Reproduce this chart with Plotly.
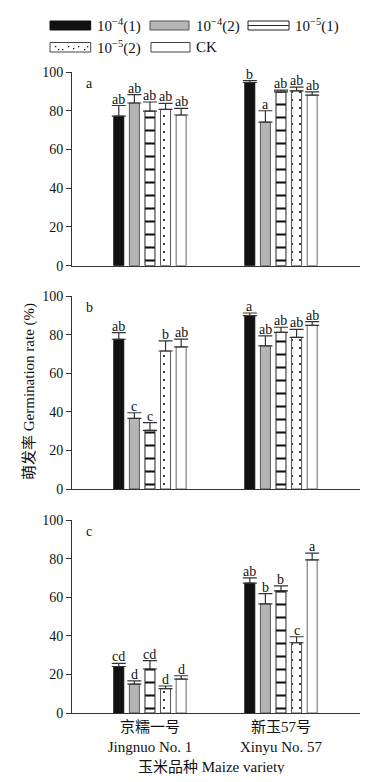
import plotly.graph_objects as go

# ---------------- data ----------------
varieties = ["京糯一号<br>Jingnuo No. 1", "新玉57号<br>Xinyu No. 57"]
treatments = ["10<sup>−4</sup>(1)", "10<sup>−4</sup>(2)", "10<sup>−5</sup>(1)", "10<sup>−5</sup>(2)", "CK"]
panel_tags = ["a", "b", "c"]

# means per panel, per treatment: [Jingnuo, Xinyu]
a_mean = [[77.2, 94.6], [84.0, 74.1], [79.8, 89.7], [80.7, 90.3], [77.8, 88.1]]
a_err = [[5.5, 1.0], [4.3, 5.9], [4.7, 0.9], [3.1, 1.9], [3.4, 1.6]]
a_lab = [["ab", "b"], ["ab", "a"], ["ab", "ab"], ["ab", "ab"], ["ab", "ab"]]

b_mean = [[77.6, 89.8], [36.6, 74.2], [30.4, 81.2], [71.5, 78.6], [73.6, 84.8]]
b_err = [[3.4, 1.4], [2.9, 5.1], [4.0, 2.6], [5.3, 4.1], [4.1, 1.9]]
b_lab = [["ab", "a"], ["c", "ab"], ["c", "ab"], ["b", "ab"], ["ab", "ab"]]

c_mean = [[24.1, 67.3], [15.0, 56.5], [22.8, 63.3], [12.6, 36.4], [17.6, 79.3]]
c_err = [[1.6, 2.7], [1.6, 5.4], [4.3, 2.6], [1.4, 3.1], [1.7, 3.5]]
c_lab = [["cd", "ab"], ["d", "b"], ["cd", "b"], ["d", "c"], ["d", "a"]]

panels = [(a_mean, a_err, a_lab), (b_mean, b_err, b_lab), (c_mean, c_err, c_lab)]

# ---------------- styles ----------------
SERIF = "Liberation Serif, 'Times New Roman', 'Noto Sans CJK SC', serif"
INK = "#111111"
styles = [
    dict(color="#111111", line=dict(color="#111111", width=1)),
    dict(color="#b5b5b5", line=dict(color="#555555", width=1)),
    dict(color="white", line=dict(color="#222222", width=1),
         pattern=dict(shape="-", size=13, solidity=0.16, fgcolor="#111111",
                      bgcolor="white", fillmode="replace")),
    dict(color="white", line=dict(color="#555555", width=1),
         pattern=dict(shape=".", size=8, solidity=0.06, fgcolor="#111111",
                      bgcolor="white", fillmode="replace")),
    dict(color="white", line=dict(color="#666666", width=1)),
]

BARGAP = 0.405
SLOT = (1 - BARGAP) / len(treatments)

# page has an 8px body margin: figure is placed at (8, 8) in the window.
# target plot area in window pixels: x 72..360, y 72..713
OFF = 8
W, H = 383 - 2 * OFF, 782 - 2 * OFF
L, T = 72 - OFF, 72 - OFF
R = W - (360 - OFF)
B = H - (713 - OFF)
PW, PH = W - L - R, H - T - B


def px_x(p):
    return (p - 72) / PW


def px_y(p):
    return (713 - p) / PH


domains = [
    [px_y(265.7), 1.0],
    [px_y(489.0), px_y(296.0)],
    [0.0, px_y(520.0)],
]

fig = go.Figure()
annotations = []

for pi, (means, errs, labs) in enumerate(panels):
    xa = "x" if pi == 0 else f"x{pi + 1}"
    ya = "y" if pi == 0 else f"y{pi + 1}"
    for ti, tname in enumerate(treatments):
        fig.add_trace(go.Bar(
            x=varieties, y=means[ti], name=tname, xaxis=xa, yaxis=ya,
            marker=styles[ti], showlegend=False,
            error_y=dict(type="data", symmetric=False, array=errs[ti],
                         arrayminus=[0] * len(varieties), color="#333333",
                         thickness=1.2, width=7),
        ))
        for vi in range(len(varieties)):
            annotations.append(dict(
                x=vi + (ti - 2) * SLOT, y=means[ti][vi] + errs[ti][vi],
                xref=xa, yref=ya, text=labs[ti][vi], showarrow=False,
                yanchor="bottom", yshift=-3,
                font=dict(family=SERIF, size=14, color=INK),
            ))
    annotations.append(dict(
        x=px_x(89), y=94, xref="paper", yref=ya, text=panel_tags[pi],
        showarrow=False, xanchor="center", yanchor="middle",
        font=dict(family=SERIF, size=14, color=INK),
    ))

axis_common = dict(showline=True, linecolor="#333333", linewidth=1,
                   showgrid=False, zeroline=False, mirror=False)

layout = dict(
    template="none",
    width=W, height=H,
    margin=dict(l=L, r=R, t=T, b=B, pad=0),
    paper_bgcolor="white", plot_bgcolor="white",
    barmode="group", bargap=BARGAP, bargroupgap=0.36,
    font=dict(family=SERIF, size=14, color=INK),
    showlegend=False,
)
for pi in range(3):
    xk = "xaxis" if pi == 0 else f"xaxis{pi + 1}"
    yk = "yaxis" if pi == 0 else f"yaxis{pi + 1}"
    ya = "y" if pi == 0 else f"y{pi + 1}"
    xa = "x" if pi == 0 else f"x{pi + 1}"
    layout[xk] = dict(axis_common, domain=[0, 1], anchor=ya, type="category",
                      range=[-0.595, 1.603], ticks="",
                      showticklabels=(pi == 2), automargin=False,
                      tickfont=dict(family=SERIF, size=15, color=INK))
    layout[yk] = dict(axis_common, domain=domains[pi], anchor=xa,
                      range=[0, 100], tickvals=[0, 20, 40, 60, 80, 100],
                      ticks="outside", ticklen=5, tickcolor="#333333",
                      automargin=False,
                      tickfont=dict(family=SERIF, size=14, color=INK))

fig.update_layout(**layout)

# axis titles
annotations.append(dict(
    x=px_x(29), y=px_y(392), xref="paper", yref="paper",
    text="萌发率 Germination rate (%)", textangle=-90, showarrow=False,
    xanchor="center", yanchor="middle",
    font=dict(family=SERIF, size=15, color=INK),
))
annotations.append(dict(
    x=px_x(211), y=px_y(767), xref="paper", yref="paper",
    text="玉米品种 Maize variety", showarrow=False,
    xanchor="center", yanchor="middle",
    font=dict(family=SERIF, size=15, color=INK),
))

# ---------------- manual legend ----------------
shapes = []
legend_items = [
    (50, 90.7, 21, 30, 95),
    (150, 189, 21, 30, 194),
    (248, 289, 21, 30, 293),
    (50, 90.7, 42.5, 52, 95),
    (151, 190, 42.5, 52, 194),
]
sw_fill = ["#111111", "#b5b5b5", "white", "white", "white"]
sw_line = ["#111111", "#555555", "#222222", "#444444", "#444444"]
for ti, (x0, x1, y0, y1, tx) in enumerate(legend_items):
    shapes.append(dict(type="rect", xref="paper", yref="paper",
                       x0=px_x(x0), x1=px_x(x1), y0=px_y(y1), y1=px_y(y0),
                       fillcolor=sw_fill[ti], line=dict(color=sw_line[ti], width=1)))
    if ti == 2:
        ym = (y0 + y1) / 2
        shapes.append(dict(type="line", xref="paper", yref="paper",
                           x0=px_x(x0), x1=px_x(x1), y0=px_y(ym), y1=px_y(ym),
                           line=dict(color="#222222", width=1.2)))
    if ti == 3:
        dots = [(55, 46), (62, 49), (68, 46), (73, 48), (78, 46), (84, 49), (87, 46), (58, 49)]
        for dx, dy in dots:
            shapes.append(dict(type="rect", xref="paper", yref="paper",
                               x0=px_x(dx), x1=px_x(dx + 1.3), y0=px_y(dy + 1.3), y1=px_y(dy),
                               fillcolor="#111111", line=dict(width=0)))
    annotations.append(dict(
        x=px_x(tx), y=px_y((y0 + y1) / 2), xref="paper", yref="paper",
        text=treatments[ti], showarrow=False, xanchor="left", yanchor="middle",
        font=dict(family=SERIF, size=15, color=INK),
    ))

fig.update_layout(annotations=annotations, shapes=shapes)
fig.write_html("out.html")
